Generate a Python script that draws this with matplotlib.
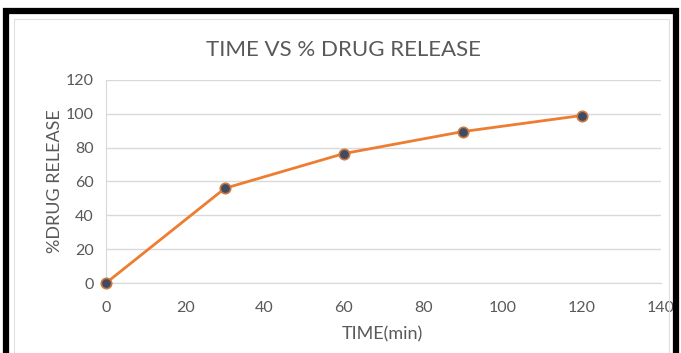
import matplotlib
matplotlib.use("Agg")
import matplotlib.pyplot as plt
from matplotlib.patches import Rectangle

# data
time_min = [0, 30, 60, 90, 120]
drug_release = [0, 56, 76.5, 89.5, 99]
x_ticks = [0, 20, 40, 60, 80, 100, 120, 140]
y_ticks = [0, 20, 40, 60, 80, 100, 120]

plt.rcParams["font.family"] = ["Lato", "DejaVu Sans"]
TXT = "#595959"
GRID = "#d9d9d9"

fig = plt.figure(figsize=(6.81, 3.53), dpi=100)
ax = fig.add_axes([0.1557, 0.1983, 0.8149, 0.5751])

ax.plot(time_min, drug_release, "-", color="#ed7d31", linewidth=2, zorder=3,
        clip_on=False)
ax.plot(time_min, drug_release, "o", markersize=7.5, markerfacecolor="#404b62",
        markeredgecolor="#c97a45", markeredgewidth=1.2, zorder=4, clip_on=False)

ax.set_xlim(0, 140)
ax.set_ylim(0, 120)
ax.set_xticks(x_ticks)
ax.set_yticks(y_ticks)
ax.grid(axis="y", color=GRID, linewidth=1)
ax.set_axisbelow(True)
for s in ("top", "right"):
    ax.spines[s].set_visible(False)
for s in ("left", "bottom"):
    ax.spines[s].set_color(GRID)
ax.tick_params(length=0, labelsize=11.5, labelcolor=TXT)
ax.tick_params(axis="x", pad=13)
ax.tick_params(axis="y", pad=9)

# title and axis labels placed in figure coords like the Excel layout
fig.text(0.505, 0.858, "TIME VS % DRUG RELEASE", fontsize=16, color=TXT,
         ha="center", va="center")
fig.text(0.562, 0.054, "TIME(min)", fontsize=13, color=TXT, ha="center", va="center")
fig.text(0.081, 0.487, "%DRUG RELEASE", fontsize=13, color=TXT, rotation=90,
         ha="center", va="center")

# black frame around the chart (bottom cut off in the reference)
fig.patches.append(Rectangle((0.0095, -0.05), 0.983, 1.02, transform=fig.transFigure,
                             fill=False, edgecolor="black", linewidth=4.5))
fig.patches.append(Rectangle((0.02, -0.05), 0.962, 0.995, transform=fig.transFigure,
                             fill=False, edgecolor="#e0e0e0", linewidth=0.8))

fig.savefig("out.png", dpi=100)
